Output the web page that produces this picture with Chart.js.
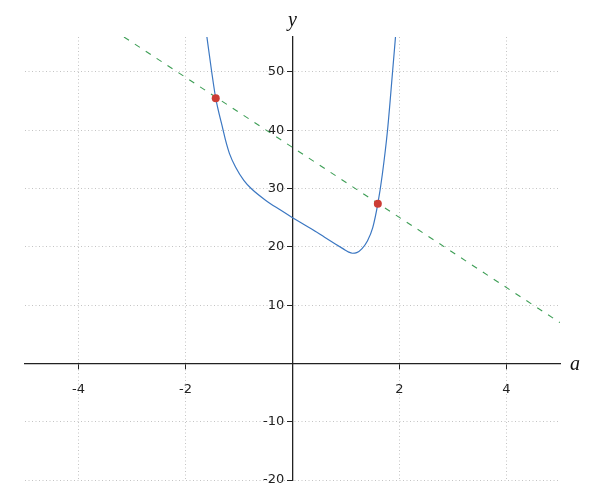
<!DOCTYPE html>
<html>
<head>
<meta charset="utf-8">
<title>Curve and line</title>
<script src="https://cdn.jsdelivr.net/npm/chart.js@4.4.1/dist/chart.umd.min.js"></script>
<style>
    html, body { margin: 0; padding: 0; background: #fff; }
    canvas { display: block; }
</style>
</head>
<body>
<canvas id="curveChart" width="600" height="500"></canvas>
<script>
// values
const curveX = [-1.60, -1.51, -1.435, -1.296, -1.252, -1.178, -1.065, -0.91, -0.772, -0.505, -0.224, 0, 0.35, 0.60, 0.80, 0.95, 1.05, 1.12, 1.20, 1.30, 1.40, 1.50, 1.595, 1.68, 1.776, 1.87, 1.925];
const curveY = [56, 50, 45.5, 40, 38.3, 36.0, 33.7, 31.4, 30.0, 28.0, 26.3, 25.0, 23.1, 21.65, 20.5, 19.65, 19.1, 18.9, 19.0, 19.7, 21.0, 23.3, 27.4, 32.5, 40, 50, 56];

const lineX = [-3.15, 5];
const lineY = [56, 7];

const pointsX = [-1.435, 1.595];
const pointsY = [45.5, 27.4];

const xTicks = [-4, -2, 0, 2, 4];
const yTicks = [-20, -10, 0, 10, 20, 30, 40, 50];
const xRange = [-5, 5];
const yRange = [-20, 56];

function toXY(xs, ys) {
    return xs.map((x, i) => ({ x: x, y: ys[i] }));
}

// axis names at the ends of the axes
const axisNames = {
    id: 'axisNames',
    afterDraw(chart) {
        const ctx = chart.ctx;
        const xs = chart.scales.x;
        const ys = chart.scales.y;
        ctx.save();
        ctx.fillStyle = '#111';
        ctx.font = 'italic 20px "Liberation Serif"';
        ctx.textBaseline = 'alphabetic';
        ctx.textAlign = 'center';
        ctx.fillText('y', xs.getPixelForValue(0), 26);
        ctx.textAlign = 'left';
        ctx.fillText('a', chart.chartArea.right + 10, ys.getPixelForValue(0) + 7);
        ctx.restore();
    }
};

const gridColor = (c) => (c.tick && c.tick.value === 0) ? 'rgba(0,0,0,0)' : '#c4c4c4';
const tickFont = { family: 'DejaVu Sans', size: 13 };

const ctx = document.getElementById('curveChart').getContext('2d');
const curveChart = new Chart(ctx, {
    type: 'scatter',
    data: {
        datasets: [{
            label: 'points',
            data: toXY(pointsX, pointsY),
            pointRadius: 4,
            pointBackgroundColor: '#cc3d35',
            pointBorderWidth: 0,
            showLine: false
        }, {
            label: 'curve',
            data: toXY(curveX, curveY),
            showLine: true,
            borderColor: '#3b77c2',
            borderWidth: 1.2,
            pointRadius: 0,
            cubicInterpolationMode: 'monotone'
        }, {
            label: 'line',
            data: toXY(lineX, lineY),
            showLine: true,
            borderColor: '#3d9e55',
            borderWidth: 1.1,
            borderDash: [6, 7],
            pointRadius: 0
        }]
    },
    options: {
        responsive: false,
        animation: false,
        devicePixelRatio: 1,
        layout: { padding: { left: 25, right: 40, top: 37, bottom: 20 } },
        plugins: {
            legend: { display: false },
            tooltip: { enabled: false }
        },
        scales: {
            x: {
                type: 'linear',
                min: xRange[0],
                max: xRange[1],
                position: { y: 0 },
                afterBuildTicks: (s) => { s.ticks = xTicks.map(v => ({ value: v })); },
                afterFit: (s) => { s.height = 0; },
                grid: { color: gridColor, lineWidth: 1, tickLength: 5, tickColor: '#222', tickWidth: 1 },
                border: { color: '#222', width: 1.3, dash: [1, 2.5] },
                ticks: {
                    color: '#222',
                    font: tickFont,
                    padding: 13,
                    maxRotation: 0,
                    callback: (v) => v === 0 ? '' : v
                }
            },
            y: {
                type: 'linear',
                min: yRange[0],
                max: yRange[1],
                position: { x: 0 },
                afterBuildTicks: (s) => { s.ticks = yTicks.map(v => ({ value: v })); },
                afterFit: (s) => { s.width = 0; },
                grid: { color: gridColor, lineWidth: 1, tickLength: 5, tickColor: '#222', tickWidth: 1 },
                border: { color: '#222', width: 1.3, dash: [1, 2.5] },
                ticks: {
                    color: '#222',
                    font: tickFont,
                    // labels sit right-aligned on the axis, keep them clear of it
                    callback: (v) => v === 0 ? '' : v + '  '
                }
            }
        }
    },
    plugins: [axisNames]
});
</script>
</body>
</html>
